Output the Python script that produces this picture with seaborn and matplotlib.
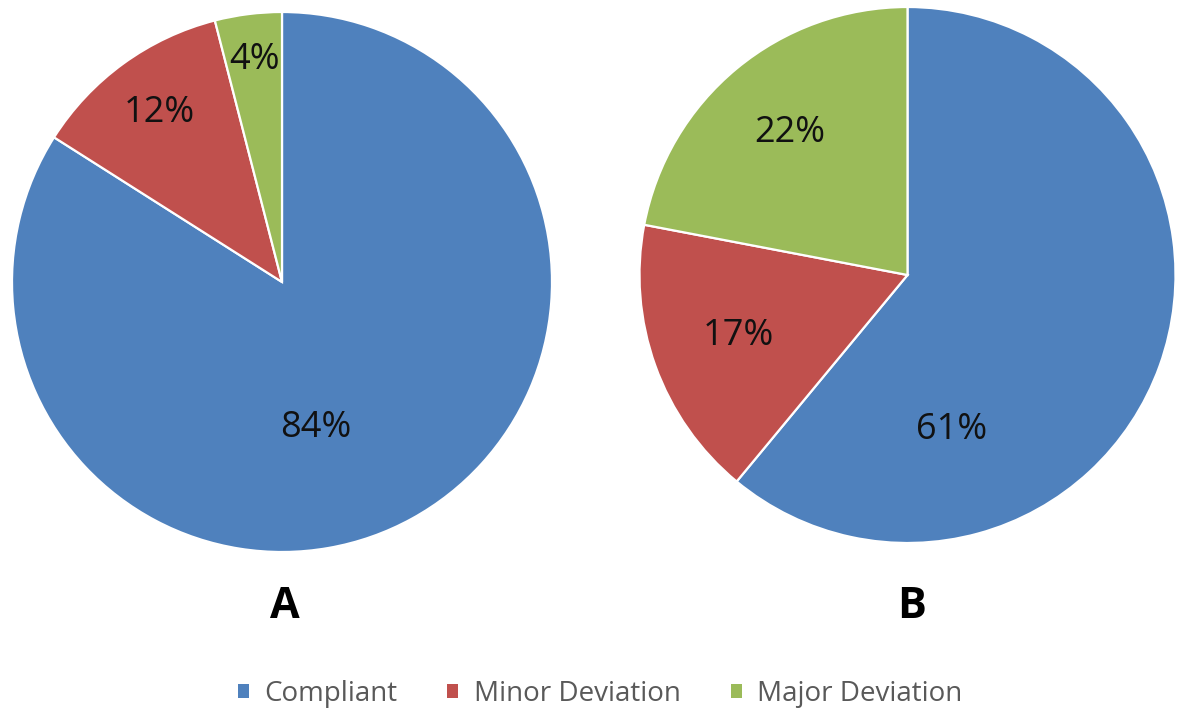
import numpy as np
import matplotlib
matplotlib.use("Agg")
import matplotlib.pyplot as plt
import seaborn as sns
from matplotlib.patches import Patch

sns.set_theme(style="white")
plt.rcParams["font.family"] = ["Open Sans", "DejaVu Sans"]

# ---- data ----
categories = ["Compliant", "Minor Deviation", "Major Deviation"]
values_a = [84, 12, 4]
values_b = [61, 17, 22]
panel_labels = ["A", "B"]
colors = sns.color_palette(["#4F81BD", "#C0504D", "#9BBB59"])

# label placement (radial fraction per slice; Excel puts the big-slice label lower)
label_r_a = [0.556, 0.773, 0.827]
label_r_b = [0.60, 0.67, 0.69]
big_label_angle = [-77.0, -74.0]

W, H = 1180, 715
fig = plt.figure(figsize=(W / 100, H / 100), dpi=100)

# axes boxes from pixel geometry (center x, center y, radius)
geoms = [(282, 282, 270), (907.5, 275, 268)]
all_values = [values_a, values_b]
all_r = [label_r_a, label_r_b]

for i, ((cx, cy, r), vals, lr) in enumerate(zip(geoms, all_values, all_r)):
    ax = fig.add_axes([(cx - r) / W, (H - cy - r) / H, 2 * r / W, 2 * r / H])
    wedges, texts, autotexts = ax.pie(
        vals, colors=colors, startangle=90, counterclock=False,
        radius=1.0, autopct="%d%%",
        wedgeprops=dict(edgecolor="white", linewidth=1.6),
        textprops=dict(fontsize=26, color="#111111"),
    )
    for k, (w, t) in enumerate(zip(wedges, autotexts)):
        if k == 0:
            ang = np.deg2rad(big_label_angle[i])
        else:
            ang = np.deg2rad((w.theta1 + w.theta2) / 2)
        t.set_position((lr[k] * np.cos(ang), lr[k] * np.sin(ang)))
        t.set_ha("center")
        t.set_va("center")
    ax.set_xlim(-1, 1)
    ax.set_ylim(-1, 1)
    ax.set_aspect("equal", adjustable="box")
    ax.axis("off")

# panel letters
for lab, xc in zip(panel_labels, [285, 912]):
    fig.text(xc / W, 1 - 607 / H, lab, ha="center", va="center",
             fontsize=31, fontweight="bold", color="black")

handles = [Patch(facecolor=c, edgecolor="none") for c in colors]
leg = fig.legend(handles, categories, loc="center", ncol=3,
                 bbox_to_anchor=(600 / W, 1 - 694 / H), frameon=False,
                 fontsize=20, handlelength=0.4, handleheight=0.4,
                 handletextpad=0.55, columnspacing=1.8)
for t in leg.get_texts():
    t.set_color("#595959")

fig.savefig("out.png", dpi=100, facecolor="white")
